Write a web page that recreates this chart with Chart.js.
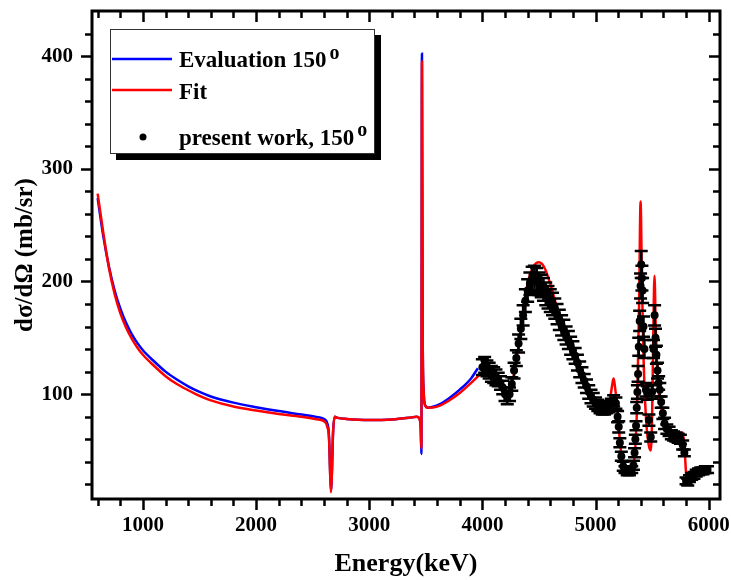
<!DOCTYPE html>
<html>
<head>
<meta charset="utf-8">
<title>dσ/dΩ at 150°</title>
<script src="https://cdn.jsdelivr.net/npm/chart.js@4.4.1/dist/chart.umd.min.js"></script>
<style>
  html, body { margin: 0; padding: 0; background: #fff; }
</style>
</head>
<body>
<canvas id="xsChart" width="731" height="580"></canvas>
<script>
// Evaluation, 150 deg (blue)
const evalEnergy = [600, 650, 700, 750, 800, 850, 900, 950, 1000, 1100,
  1200, 1300, 1400, 1500, 1600, 1800, 2000, 2200, 2400, 2550,
  2600, 2630, 2645, 2655, 2662, 2670, 2680, 2695, 2720, 2800,
  3000, 3200, 3350, 3420, 3445, 3455, 3461, 3466, 3472, 3480,
  3495, 3520, 3600, 3700, 3800, 3900, 3960];
const evalSigma = [274, 240, 213, 192, 176, 163.5, 153.5, 145.5, 139, 129,
  120, 113, 107, 102, 98, 92.5, 88.5, 85, 82, 79.5,
  78, 74, 62, 30, 15, 30, 65, 80, 79, 78,
  77, 77.5, 79, 80, 78, 70, 47, 402, 160, 105,
  90, 88, 90, 96, 104, 114, 123];

// Fit (red)
const fitEnergy = [600, 650, 700, 750, 800, 850, 900, 950, 1000, 1100,
  1200, 1300, 1400, 1500, 1600, 1800, 2000, 2200, 2400, 2550,
  2600, 2630, 2645, 2655, 2662, 2670, 2680, 2695, 2720, 2800,
  3000, 3200, 3350, 3420, 3445, 3455, 3461, 3466, 3472, 3480,
  3495, 3520, 3600, 3700, 3800, 3900, 4000, 4050, 4100, 4150,
  4200, 4230, 4260, 4300, 4350, 4400, 4450, 4500, 4550, 4600,
  4650, 4700, 4750, 4800, 4850, 4900, 4950, 5000, 5050, 5100,
  5130, 5150, 5160, 5170, 5190, 5210, 5230, 5260, 5300, 5330,
  5350, 5370, 5385, 5398, 5410, 5425, 5445, 5470, 5488, 5500,
  5510, 5521, 5532, 5545, 5560, 5580, 5600, 5650, 5700, 5750,
  5770, 5785, 5800, 5810, 5850, 5900, 5950, 6000];
const fitSigma = [278, 243, 212, 189, 172, 159.5, 149.5, 141.5, 135, 125,
  116, 109, 103.5, 98.5, 94.5, 89, 85.5, 82.5, 80, 77.5,
  76, 71, 60, 28, 13, 30, 65, 80, 79, 78,
  77, 77.5, 79, 80, 78, 70, 52, 395, 160, 105,
  90, 88, 89, 94, 101, 110, 119, 121, 117, 110,
  101, 99, 108, 130, 165, 198, 213, 217, 212, 198,
  180, 162, 148, 136, 124, 110, 99, 92, 88, 90,
  97, 110, 114, 108, 90, 65, 45, 35, 31, 35,
  50, 100, 180, 271, 200, 130, 80, 55, 50, 80,
  150, 205, 160, 120, 100, 88, 78, 68, 63, 62,
  66, 55, 30, 22, 26, 30, 32, 33];

// present work, 150 deg
const expEnergy = [4000, 4020, 4040, 4060, 4080, 4100, 4120, 4140, 4160, 4180,
  4200, 4220, 4240, 4260, 4280, 4300, 4320, 4340, 4360, 4380,
  4400, 4420, 4440, 4460, 4480, 4500, 4520, 4540, 4560, 4580,
  4600, 4620, 4640, 4660, 4680, 4700, 4720, 4740, 4760, 4780,
  4800, 4820, 4840, 4860, 4880, 4900, 4920, 4940, 4960, 4980,
  5000, 5020, 5040, 5060, 5080, 5100, 5120, 5140, 5160, 5180,
  5195, 5205, 5215, 5228, 5245, 5260, 5280, 5300, 5320, 5335,
  5345, 5352, 5358, 5364, 5370, 5376, 5382, 5390, 5398, 5404,
  5410, 5416, 5424, 5432, 5445, 5458, 5472, 5488, 5500, 5512,
  5522, 5530, 5538, 5548, 5558, 5568, 5580, 5595, 5610, 5630,
  5650, 5670, 5690, 5710, 5730, 5750, 5770, 5785, 5800, 5815,
  5830, 5850, 5870, 5890, 5910, 5930, 5950, 5970, 5990];
const expSigma = [124, 126, 123, 121, 118, 117, 115, 113, 110, 106,
  100, 97, 100, 109, 121, 132, 145, 158, 170, 183,
  192, 198, 202, 203, 201, 198, 196, 193, 189, 186,
  183, 180, 176, 171, 166, 161, 157, 152, 148, 143,
  139, 134, 128, 122, 117, 112, 107, 102, 98, 95,
  92, 90, 88, 87, 87, 88, 89, 91, 94, 92,
  80, 71, 57, 45, 36, 33, 31, 31, 33, 37,
  48, 60, 72, 88, 102, 118, 142, 165, 196, 215,
  203, 192, 160, 140, 104, 101, 77, 62, 102, 140,
  170, 150, 135, 121, 110, 104, 93, 83, 74, 69,
  67, 64, 63, 62, 61, 60, 55, 48, 23, 22,
  25, 27, 28, 30, 31, 32, 32, 33, 33];
const expError = [7, 7, 7, 7, 7, 7, 7, 6, 6, 6,
  6, 6, 6, 6, 7, 7, 8, 9, 9, 10,
  10, 10, 11, 11, 11, 10, 10, 10, 10, 10,
  10, 10, 9, 9, 9, 9, 9, 8, 8, 8,
  8, 7, 7, 7, 7, 6, 6, 6, 6, 6,
  5, 5, 5, 5, 5, 5, 5, 5, 5, 5,
  5, 5, 4, 4, 4, 3, 3, 3, 3, 4,
  4, 4, 4, 5, 6, 7, 8, 9, 11, 12,
  11, 11, 9, 8, 6, 6, 5, 4, 6, 8,
  9, 8, 8, 7, 6, 6, 5, 5, 5, 4,
  4, 4, 4, 4, 4, 4, 4, 3, 3, 3,
  3, 3, 3, 3, 3, 3, 3, 3, 3];

const xTicks = [1000, 2000, 3000, 4000, 5000, 6000];
const yTicks = [100, 200, 300, 400];

const serif = "'Liberation Serif', 'Times New Roman', serif";
Chart.defaults.font.family = serif;
Chart.defaults.font.weight = 'bold';
Chart.defaults.color = '#000';

const toXY = (xs, ys) => xs.map((x, i) => ({ x: x, y: ys[i] }));

// keep the plot box where the original has it
function fixBox(s, size) {
  if (s.isHorizontal()) s.height = size; else s.width = size;
  s.paddingTop = 0;
  s.paddingBottom = 0;
  s.paddingLeft = 0;
  s.paddingRight = 0;
}

// frame, mirrored ticks, error bars and the boxed legend
const frame = {
  id: 'frame',
  beforeDatasetDraw(chart, args) {
    if (args.index !== 2) return;
    const { ctx, chartArea: a, scales: { x, y } } = chart;
    ctx.save();
    ctx.beginPath();
    ctx.rect(a.left, a.top, a.right - a.left, a.bottom - a.top);
    ctx.clip();
    ctx.strokeStyle = '#000';
    ctx.lineWidth = 2.5;
    expEnergy.forEach((e, i) => {
      const px = x.getPixelForValue(e);
      const hi = y.getPixelForValue(expSigma[i] + expError[i]);
      const lo = y.getPixelForValue(expSigma[i] - expError[i]);
      ctx.beginPath();
      ctx.moveTo(px, hi); ctx.lineTo(px, lo);
      ctx.moveTo(px - 6.5, hi); ctx.lineTo(px + 6.5, hi);
      ctx.moveTo(px - 6.5, lo); ctx.lineTo(px + 6.5, lo);
      ctx.stroke();
    });
    ctx.restore();
  },
  afterDraw(chart) {
    const { ctx, chartArea: a, scales: { x, y } } = chart;
    ctx.save();
    ctx.strokeStyle = '#000';
    ctx.lineCap = 'butt';

    // ticks: outward on bottom/left, inward on top/right
    ctx.lineWidth = 2.5;
    for (let v = 600; v <= 6000; v += 200) {
      const len = xTicks.includes(v) ? 11 : 7;
      const px = Math.round(x.getPixelForValue(v)) + 0.5;
      ctx.beginPath();
      ctx.moveTo(px, a.bottom); ctx.lineTo(px, a.bottom + len);
      ctx.moveTo(px, a.top); ctx.lineTo(px, a.top + len);
      ctx.stroke();
    }
    for (let v = 20; v <= 420; v += 20) {
      const len = yTicks.includes(v) ? 11 : 7;
      const py = Math.round(y.getPixelForValue(v)) + 0.5;
      ctx.beginPath();
      ctx.moveTo(a.left, py); ctx.lineTo(a.left - len, py);
      ctx.moveTo(a.right, py); ctx.lineTo(a.right - len, py);
      ctx.stroke();
    }

    ctx.lineWidth = 3;
    ctx.strokeRect(a.left, a.top, a.right - a.left, a.bottom - a.top);

    // legend box with drop shadow
    ctx.fillStyle = '#000';
    ctx.fillRect(116, 35, 265, 125);
    ctx.fillStyle = '#fff';
    ctx.fillRect(110, 29, 265, 125);
    ctx.lineWidth = 1;
    ctx.strokeStyle = '#333';
    ctx.strokeRect(110.5, 29.5, 264, 124);

    ctx.lineWidth = 2.5;
    ctx.strokeStyle = '#0000ff';
    ctx.beginPath(); ctx.moveTo(112, 59); ctx.lineTo(172, 59); ctx.stroke();
    ctx.strokeStyle = '#ff0000';
    ctx.beginPath(); ctx.moveTo(112, 90); ctx.lineTo(172, 90); ctx.stroke();
    ctx.fillStyle = '#000';
    ctx.beginPath(); ctx.arc(143, 137, 3.5, 0, Math.PI * 2); ctx.fill();

    ctx.textAlign = 'left';
    ctx.textBaseline = 'alphabetic';
    ctx.font = 'bold 23px ' + serif;
    ctx.fillText('Evaluation 150', 179, 67);
    const w1 = ctx.measureText('Evaluation 150').width;
    ctx.fillText('Fit', 179, 99);
    ctx.fillText('present work, 150', 179, 145);
    const w2 = ctx.measureText('present work, 150').width;
    ctx.font = 'bold 20px ' + serif;
    ctx.fillText('o', 179 + w1 + 3, 59);
    ctx.fillText('o', 179 + w2 + 3, 136);
    ctx.restore();
  }
};

new Chart(document.getElementById('xsChart'), {
  type: 'line',
  data: {
    datasets: [{
      label: 'Evaluation 150°',
      data: toXY(evalEnergy, evalSigma),
      borderColor: '#0000ff',
      borderWidth: 2.5,
      pointRadius: 0,
      cubicInterpolationMode: 'monotone',
      order: 3
    }, {
      label: 'Fit',
      data: toXY(fitEnergy, fitSigma),
      borderColor: '#ff0000',
      borderWidth: 2.5,
      pointRadius: 0,
      cubicInterpolationMode: 'monotone',
      order: 2
    }, {
      label: 'present work, 150°',
      data: toXY(expEnergy, expSigma),
      showLine: false,
      pointRadius: 4,
      pointBackgroundColor: '#000',
      pointBorderWidth: 0,
      order: 1
    }]
  },
  options: {
    responsive: false,
    animation: false,
    layout: { padding: { top: 11, right: 11, left: 0, bottom: 0 } },
    plugins: {
      legend: { display: false },
      tooltip: { enabled: false }
    },
    scales: {
      x: {
        type: 'linear',
        min: 550,
        max: 6100,
        afterBuildTicks: s => { s.ticks = xTicks.map(v => ({ value: v })); },
        afterFit: s => fixBox(s, 81),
        grid: { display: false, drawTicks: false },
        border: { display: false },
        ticks: {
          padding: 14,
          maxRotation: 0,
          autoSkip: false,
          color: '#000',
          font: { size: 21, weight: 'bold' },
          callback: v => String(v)
        },
        title: {
          display: true,
          text: 'Energy(keV)',
          color: '#000',
          font: { size: 26, weight: 'bold' },
          padding: { top: 0, bottom: 0 }
        }
      },
      y: {
        type: 'linear',
        min: 7,
        max: 440,
        afterBuildTicks: s => { s.ticks = yTicks.map(v => ({ value: v })); },
        afterFit: s => fixBox(s, 92),
        grid: { display: false, drawTicks: false },
        border: { display: false },
        ticks: {
          padding: 19,
          color: '#000',
          font: { size: 21, weight: 'bold' },
          callback: v => String(v)
        },
        title: {
          display: true,
          text: 'dσ/dΩ (mb/sr)',
          color: '#000',
          font: { size: 25, weight: 'bold' },
          padding: { top: 11, bottom: 0 }
        }
      }
    }
  },
  plugins: [frame]
});
</script>
</body>
</html>
